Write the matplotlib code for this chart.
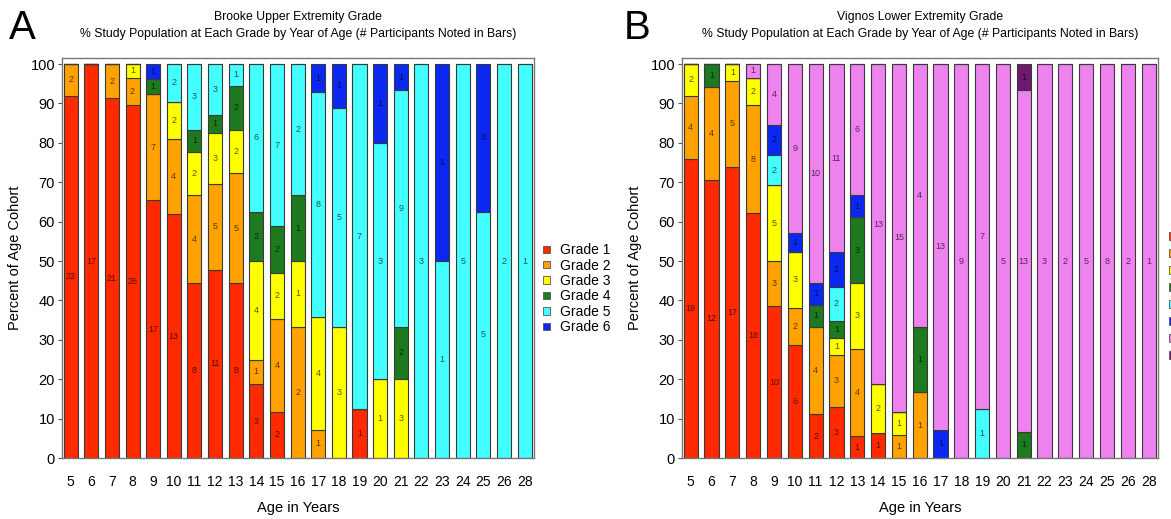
import numpy as np
import matplotlib.pyplot as plt
from matplotlib.patches import Patch

plt.rcParams['font.family'] = ['Liberation Sans', 'DejaVu Sans']

ages = ['5', '6', '7', '8', '9', '10', '11', '12', '13', '14', '15', '16',
        '17', '18', '19', '20', '21', '22', '23', '24', '25', '26', '28']

# Brooke upper extremity: participants per grade (rows = grade 1..6)
brooke = [
    [23, 17, 21, 26, 17, 13, 8, 11, 8, 3, 2, 0, 0, 0, 1, 0, 0, 0, 0, 0, 0, 0, 0],
    [2, 0, 2, 2, 7, 4, 4, 5, 5, 1, 4, 2, 1, 0, 0, 0, 0, 0, 0, 0, 0, 0, 0],
    [0, 0, 0, 1, 0, 2, 2, 3, 2, 4, 2, 1, 4, 3, 0, 1, 3, 0, 0, 0, 0, 0, 0],
    [0, 0, 0, 0, 1, 0, 1, 1, 2, 2, 2, 1, 0, 0, 0, 0, 2, 0, 0, 0, 0, 0, 0],
    [0, 0, 0, 0, 0, 2, 3, 3, 1, 6, 7, 2, 8, 5, 7, 3, 9, 3, 1, 5, 5, 2, 1],
    [0, 0, 0, 0, 1, 0, 0, 0, 0, 0, 0, 0, 1, 1, 0, 1, 1, 0, 1, 0, 3, 0, 0],
]

# Vignos lower extremity: participants per grade (rows = grade 1..8)
vignos = [
    [19, 12, 17, 18, 10, 6, 2, 3, 1, 1, 0, 0, 0, 0, 0, 0, 0, 0, 0, 0, 0, 0, 0],
    [4, 4, 5, 8, 3, 2, 4, 3, 4, 0, 1, 1, 0, 0, 0, 0, 0, 0, 0, 0, 0, 0, 0],
    [2, 0, 1, 2, 5, 3, 0, 1, 3, 2, 1, 0, 0, 0, 0, 0, 0, 0, 0, 0, 0, 0, 0],
    [0, 1, 0, 0, 0, 0, 1, 1, 3, 0, 0, 1, 0, 0, 0, 0, 1, 0, 0, 0, 0, 0, 0],
    [0, 0, 0, 0, 2, 0, 0, 2, 0, 0, 0, 0, 0, 0, 1, 0, 0, 0, 0, 0, 0, 0, 0],
    [0, 0, 0, 0, 2, 1, 1, 2, 1, 0, 0, 0, 1, 0, 0, 0, 0, 0, 0, 0, 0, 0, 0],
    [0, 0, 0, 1, 4, 9, 10, 11, 6, 13, 15, 4, 13, 9, 7, 5, 13, 3, 2, 5, 8, 2, 1],
    [0, 0, 0, 0, 0, 0, 0, 0, 0, 0, 0, 0, 0, 0, 0, 0, 1, 0, 0, 0, 0, 0, 0],
]

grade_colors = ['#ff2a00', '#ffa200', '#ffff00', '#1e7a1e', '#44ffff',
                '#0a28f0', '#ee82ee', '#6e1a6e']


def stacked_panel(ax, counts, legend_anchor, show_labels=True, spacing=0.1):
    counts = np.array(counts, dtype=float)
    totals = counts.sum(axis=0)
    pct = counts / totals * 100
    x = np.arange(len(ages))
    bottom = np.zeros(len(ages))
    handles = []
    for g in range(counts.shape[0]):
        ax.bar(x, pct[g], 0.68, bottom=bottom, color=grade_colors[g],
               edgecolor='#3a3a3a', linewidth=0.8)
        for i in range(len(ages)):
            if counts[g, i] > 0:
                ax.text(x[i], bottom[i] + pct[g, i] / 2, str(int(counts[g, i])),
                        ha='center', va='center', fontsize=6.5,
                        color='black', alpha=0.65)
        bottom += pct[g]
        handles.append(Patch(facecolor=grade_colors[g], edgecolor='#555555',
                             linewidth=0.6))

    ax.set_xlim(-0.42, len(ages) - 0.55)
    ax.set_ylim(0, 101.5)
    ax.set_xticks(x)
    ax.set_xticklabels(ages, fontsize=10)
    ax.set_yticks(np.arange(0, 101, 10))
    ax.tick_params(axis='y', labelsize=10.5, length=3, color='#555555', pad=2)
    ax.tick_params(axis='x', length=0, pad=12)
    for s in ax.spines.values():
        s.set_color('#777777')
        s.set_linewidth(1.0)
    ax.set_xlabel('Age in Years', fontsize=10.5, labelpad=9)
    ax.set_ylabel('Percent of Age Cohort', fontsize=10.5, labelpad=6)

    # panel B legend is cut off at the figure edge in the original: markers only
    labels = [f'Grade {g + 1}' if show_labels else '' for g in range(len(handles))]
    fig.legend(handles, labels, loc='upper left', bbox_to_anchor=legend_anchor,
               frameon=False, fontsize=10, handlelength=0.5, handleheight=0.45,
               handletextpad=0.7, labelspacing=spacing, borderaxespad=0)


fig = plt.figure(figsize=(11.71, 5.19), dpi=100)
axA = fig.add_axes([0.0529, 0.1175, 0.403, 0.7705])
axB = fig.add_axes([0.5824, 0.1175, 0.4065, 0.7705])

stacked_panel(axA, brooke, (0.459, 0.542))
stacked_panel(axB, vignos, (0.9935, 0.568), show_labels=False, spacing=0.22)

axA.set_title('Brooke Upper Extremity Grade\n% Study Population at Each Grade by Year of Age (# Participants Noted in Bars)',
              fontsize=8.8, pad=15, linespacing=1.55)
axB.set_title('Vignos Lower Extremity Grade\n% Study Population at Each Grade by Year of Age (# Participants Noted in Bars)',
              fontsize=8.8, pad=15, linespacing=1.55)

fig.text(0.008, 0.925, 'A', fontsize=29)
fig.text(0.533, 0.925, 'B', fontsize=29)

fig.savefig('out.png', dpi=100)
